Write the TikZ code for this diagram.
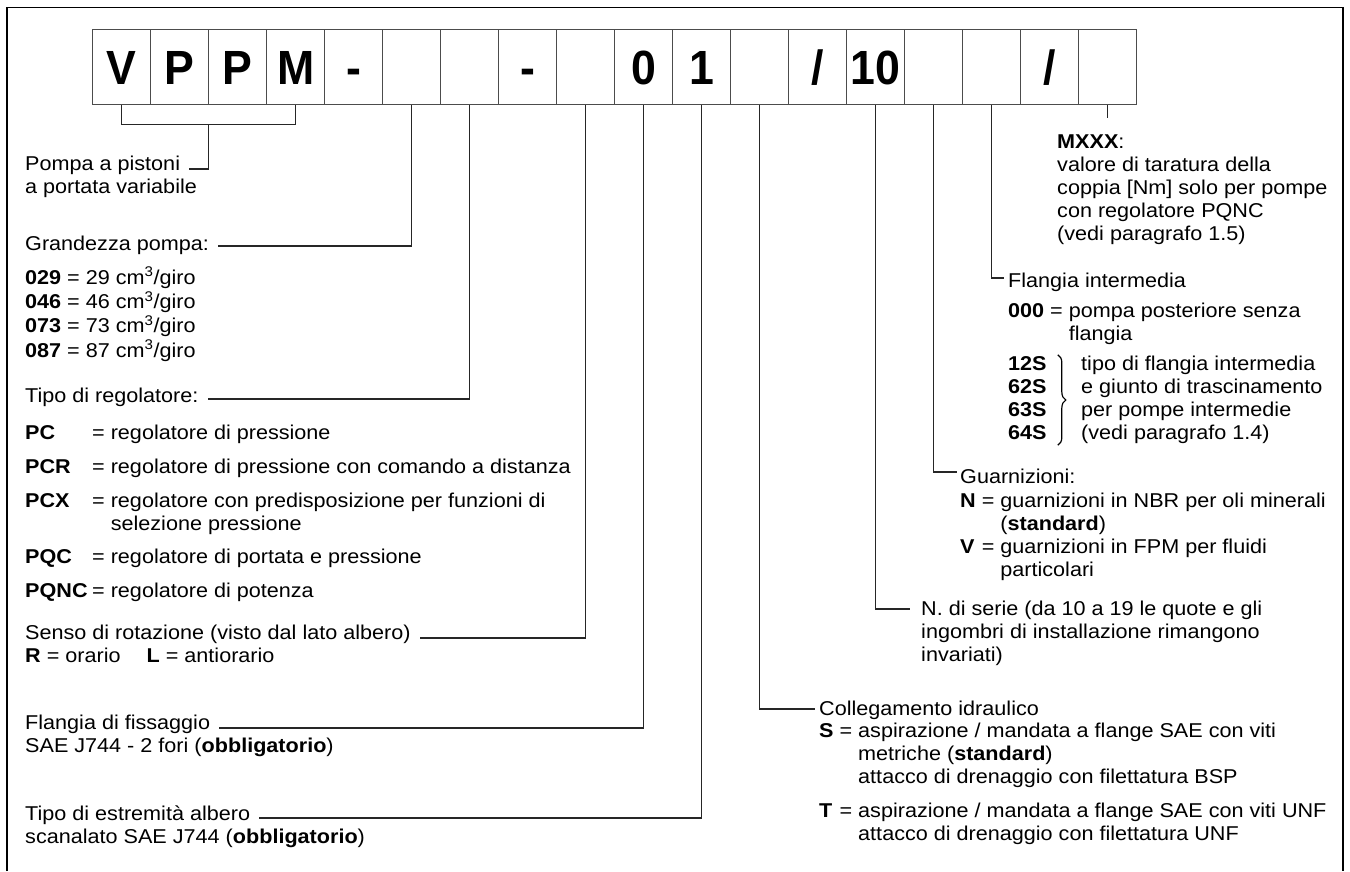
\documentclass[tikz,border=0pt]{standalone}
\usepackage{fontspec}
\setmainfont{Liberation Sans}[FakeStretch=1.08]
\newfontfamily\cellfont{Liberation Sans}[FakeStretch=0.93]
\usepackage{tikz}
\usetikzlibrary{positioning, decorations.pathreplacing, calc}
\tikzstyle{cell} = [draw=black!70, line width=1.3pt, minimum width=58pt, minimum height=75pt, inner sep=0pt, text height=34pt, text depth=0pt, anchor=north west, font=\cellfont\bfseries\fontsize{48}{48}\selectfont]
\tikzstyle{lbl} = [inner sep=0pt, anchor=base west, font=\fontsize{20}{23}\selectfont]
\tikzstyle{blk} = [inner sep=0pt, anchor=north west, font=\fontsize{20}{23}\selectfont]
\tikzstyle{conn} = [line width=1.2pt, black!85]
\tikzstyle{curly} = [decorate, decoration={brace, amplitude=8pt}, line width=1.2pt]

\begin{document}
\begin{tikzpicture}[x=1pt, y=-1pt]
\useasboundingbox (0,0) rectangle (1350,871);
% frame, open at the bottom
\draw[line width=1.6pt] (7,871) -- (7,7.5) -- (1343,7.5) -- (1343,871);

% code boxes
\foreach \c [count=\i from 0] in {V,P,P,M,-,{},{},-,{},0,1,{},/,10,{},{},/,{}}
  \node[cell] (b\i) at (92+58*\i,29) {\c};

% left column
\node[lbl] (pompa) at (25,170) {Pompa a pistoni};
\node[blk, below right=6.9pt and 0pt of pompa.base west] (pompa2) {\begin{tabular}{@{}l@{}}a portata variabile\end{tabular}};

\node[lbl] (grand) at (25,250) {Grandezza pompa:};
\node[blk, below right=16.9pt and 0pt of grand.base west] (grandlist) {\begin{tabular}{@{}l@{}}
  \textbf{029} = 29 cm\textsuperscript{3}/giro\\
  \textbf{046} = 46 cm\textsuperscript{3}/giro\\
  \textbf{073} = 73 cm\textsuperscript{3}/giro\\
  \textbf{087} = 87 cm\textsuperscript{3}/giro
\end{tabular}};

\node[lbl] (tiporeg) at (25,402) {Tipo di regolatore:};
\node[blk, below right=20.9pt and 0pt of tiporeg.base west] (reglist) {\begin{tabular}{@{}p{67pt}@{}l@{\ }l@{}}
  \textbf{PC} & = & regolatore di pressione\\[11pt]
  \textbf{PCR} & = & regolatore di pressione con comando a distanza\\[11pt]
  \textbf{PCX} & = & regolatore con predisposizione per funzioni di\\
   & & selezione pressione\\[10pt]
  \textbf{PQC} & = & regolatore di portata e pressione\\[11pt]
  \textbf{PQNC} & = & regolatore di potenza
\end{tabular}};

\node[lbl] (senso) at (25,639) {Senso di rotazione (visto dal lato albero)};
\node[blk, below right=6.9pt and 0pt of senso.base west] (sensolist) {\begin{tabular}{@{}l@{}}
  \textbf{R} = orario\hspace{26pt}\textbf{L} = antiorario
\end{tabular}};

\node[lbl] (flfiss) at (25,729) {Flangia di fissaggio};
\node[blk, below right=6.9pt and 0pt of flfiss.base west] (flfiss2) {\begin{tabular}{@{}l@{}}
  SAE J744 - 2 fori (\textbf{obbligatorio})
\end{tabular}};

\node[lbl] (tipoest) at (25,820) {Tipo di estremità albero};
\node[blk, below right=6.9pt and 0pt of tipoest.base west] (tipoest2) {\begin{tabular}{@{}l@{}}
  scanalato SAE J744 (\textbf{obbligatorio})
\end{tabular}};

% right column
\node[blk] (mxxx) at (1057,132) {\begin{tabular}{@{}l@{}}
  \textbf{MXXX}:\\
  valore di taratura della\\
  coppia [Nm] solo per pompe\\
  con regolatore PQNC\\
  (vedi paragrafo 1.5)
\end{tabular}};

\node[lbl] (flint) at (1008,287) {Flangia intermedia};
\node[blk, below right=13.9pt and 0pt of flint.base west] (flint0) {\begin{tabular}{@{}l@{\ }l@{\ }l@{}}
  \textbf{000} & = & pompa posteriore senza\\
   & & flangia
\end{tabular}};
\node[blk, below right=6.5pt and 0pt of flint0.south west] (brkeys) {\begin{tabular}{@{}l@{}}
  \textbf{12S}\\ \textbf{62S}\\ \textbf{63S}\\ \textbf{64S}
\end{tabular}};
\node[blk] (brtext) at ([xshift=73pt]brkeys.north west) {\begin{tabular}{@{}l@{}}
  tipo di flangia intermedia\\
  e giunto di trascinamento\\
  per pompe intermedie\\
  (vedi paragrafo 1.4)
\end{tabular}};
\draw[curly] ([xshift=11pt,yshift=-1pt]brkeys.north east) -- ([xshift=11pt,yshift=1pt]brkeys.south east);

\node[lbl] (guarn) at (960,483) {Guarnizioni:};
\node[blk, below right=7.9pt and 0pt of guarn.base west] (guarnlist) {\begin{tabular}{@{}l@{\ }l@{\ }l@{}}
  \textbf{N} & = & guarnizioni in NBR per oli minerali\\
   & & (\textbf{standard})\\
  \textbf{V} & = & guarnizioni in FPM per fluidi\\
   & & particolari
\end{tabular}};

\node[lbl] (nserie) at (921,615) {N. di serie (da 10 a 19 le quote e gli};
\node[blk, below right=6.9pt and 0pt of nserie.base west] (nserie2) {\begin{tabular}{@{}l@{}}
  ingombri di installazione rimangono\\
  invariati)
\end{tabular}};

\node[lbl] (colleg) at (819,715) {Collegamento idraulico};
\node[blk, below right=6.4pt and 0pt of colleg.base west] (colleglist) {\begin{tabular}{@{}l@{\ }l@{\ }l@{}}
  \textbf{S} & = & aspirazione / mandata a flange SAE con viti\\
   & & metriche (\textbf{standard})\\
   & & attacco di drenaggio con filettatura BSP\\[11pt]
  \textbf{T} & = & aspirazione / mandata a flange SAE con viti UNF\\
   & & attacco di drenaggio con filettatura UNF
\end{tabular}};

% connectors
\coordinate (brk) at ($(b0.south)!0.5!(b3.south)+(0,19)$);
\draw[conn] (b0.south) -- ++(0,19) -| (b3.south);
\draw[conn] (brk) |- ([xshift=9pt,yshift=1pt]pompa.base east);
\draw[conn] (b5.south) |- ([xshift=9pt,yshift=4pt]grand.base east);
\draw[conn] (b6.south) |- ([xshift=9pt,yshift=3pt]tiporeg.base east);
\draw[conn] (b8.south) |- ([xshift=9pt,yshift=1pt]senso.base east);
\draw[conn] (b9.south) |- ([xshift=9pt,yshift=1pt]flfiss.base east);
\draw[conn] (b10.south) |- ([xshift=9pt,yshift=2pt]tipoest.base east);
\draw[conn] (b11.south) |- ([xshift=-4pt,yshift=6pt]colleg.base west);
\draw[conn] (b13.south) |- ([xshift=-11pt,yshift=6pt]nserie.base west);
\draw[conn] (b14.south) |- ([xshift=-3pt,yshift=11pt]guarn.base west);
\draw[conn] (b15.south) |- ([xshift=-4pt,yshift=9pt]flint.base west);
\coordinate (mxtick) at ($(b17.south)+(0,13)$);
\draw[conn] (b17.south) -- (mxtick);
\end{tikzpicture}
\end{document}
